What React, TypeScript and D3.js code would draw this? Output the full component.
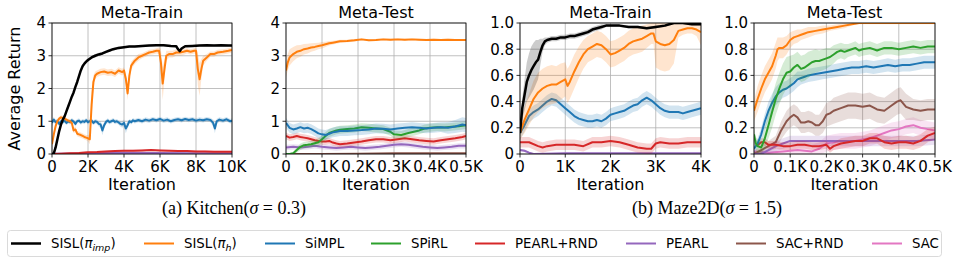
import React from 'react';
import * as d3 from 'd3';

// [iteration, mean, spread]
type Pt = [number, number, number];

// ---------- (a) Kitchen, Meta-Train ----------
const kTrainImp: Pt[] = [
  [0, 0, 0], [100, 0.02, 0.02], [200, 0.2, 0.05], [300, 0.45, 0.06], [400, 0.7, 0.06], [500, 0.9, 0.05],
  [600, 1.05, 0.05], [700, 1.15, 0.05], [800, 1.3, 0.05], [900, 1.45, 0.05], [1000, 1.6, 0.05],
  [1100, 1.75, 0.05], [1200, 1.88, 0.05], [1300, 2.05, 0.06], [1400, 2.2, 0.06], [1500, 2.38, 0.06],
  [1600, 2.55, 0.06], [1700, 2.68, 0.05], [1800, 2.76, 0.05], [1900, 2.82, 0.05], [2000, 2.87, 0.05],
  [2200, 2.95, 0.05], [2400, 3.0, 0.05], [2600, 3.04, 0.05], [2800, 3.07, 0.04], [3000, 3.12, 0.04],
  [3200, 3.16, 0.04], [3400, 3.2, 0.04], [3700, 3.24, 0.04], [4000, 3.26, 0.03], [4300, 3.28, 0.03],
  [4600, 3.28, 0.03], [5000, 3.3, 0.03], [5400, 3.31, 0.03], [5800, 3.32, 0.03], [6200, 3.32, 0.03],
  [6600, 3.3, 0.03], [6900, 3.29, 0.03], [7000, 3.2, 0.04], [7100, 3.14, 0.04], [7200, 3.22, 0.04],
  [7400, 3.29, 0.03], [7800, 3.3, 0.03], [8200, 3.31, 0.03], [8600, 3.32, 0.03], [9000, 3.31, 0.03],
  [9400, 3.32, 0.03], [9800, 3.31, 0.03], [10000, 3.31, 0.03],
];
const kTrainH: Pt[] = [
  [0, 0.3, 0.1], [100, 0.6, 0.1], [200, 0.85, 0.08], [300, 1.0, 0.08], [400, 1.08, 0.06], [500, 1.12, 0.06],
  [600, 1.1, 0.06], [700, 1.08, 0.06], [800, 1.05, 0.06], [900, 1.02, 0.06], [1000, 1.0, 0.07],
  [1100, 0.95, 0.07], [1200, 0.72, 0.08], [1300, 0.75, 0.08], [1400, 0.62, 0.08], [1500, 0.6, 0.08],
  [1600, 0.58, 0.08], [1700, 0.55, 0.08], [1800, 0.52, 0.08], [1900, 0.5, 0.08], [2000, 0.48, 0.1],
  [2100, 0.45, 0.15], [2200, 1.5, 0.4], [2300, 2.2, 0.2], [2400, 2.4, 0.12], [2500, 2.45, 0.1],
  [2700, 2.5, 0.1], [2900, 2.52, 0.1], [3100, 2.48, 0.1], [3300, 2.5, 0.1], [3500, 2.45, 0.1],
  [3700, 2.55, 0.1], [3900, 2.5, 0.1], [4000, 2.55, 0.1], [4100, 2.3, 0.15], [4200, 1.85, 0.2],
  [4300, 2.4, 0.15], [4400, 2.7, 0.12], [4600, 2.85, 0.1], [4800, 2.95, 0.1], [5000, 3.0, 0.08],
  [5200, 3.05, 0.08], [5400, 3.1, 0.08], [5600, 3.12, 0.08], [5800, 3.15, 0.08], [5950, 3.15, 0.1],
  [6050, 2.8, 0.4], [6150, 2.15, 0.5], [6250, 2.6, 0.3], [6350, 3.0, 0.15], [6500, 3.05, 0.1],
  [6700, 3.05, 0.1], [6900, 3.1, 0.1], [7100, 3.1, 0.1], [7300, 3.12, 0.1], [7500, 3.15, 0.08],
  [7700, 3.12, 0.08], [7900, 3.15, 0.08], [8000, 3.15, 0.1], [8100, 2.6, 0.5], [8200, 2.28, 0.5],
  [8300, 2.6, 0.3], [8400, 2.85, 0.15], [8600, 2.95, 0.1], [8800, 3.05, 0.08], [9000, 3.05, 0.08],
  [9200, 3.1, 0.08], [9500, 3.12, 0.08], [9800, 3.15, 0.08], [10000, 3.18, 0.08],
];
const kTrainSimpl: Pt[] = [
  [0, 0.95, 0.1], [100, 1.05, 0.08], [200, 0.97, 0.08], [300, 1.0, 0.08], [400, 0.92, 0.08], [500, 1.0, 0.07],
  [600, 0.98, 0.07], [700, 1.02, 0.07], [800, 0.95, 0.07], [900, 1.0, 0.07], [1000, 0.97, 0.07],
  [1100, 1.03, 0.07], [1200, 0.99, 0.07], [1300, 0.92, 0.08], [1400, 1.0, 0.07], [1500, 1.02, 0.07],
  [1600, 0.96, 0.07], [1700, 1.0, 0.07], [1800, 0.98, 0.07], [1900, 1.03, 0.07], [2000, 0.97, 0.07],
  [2100, 1.0, 0.07], [2200, 1.02, 0.07], [2300, 0.95, 0.07], [2400, 1.0, 0.07], [2500, 0.98, 0.07],
  [2600, 0.92, 0.08], [2700, 0.9, 0.1], [2800, 0.72, 0.15], [2900, 0.88, 0.1], [3000, 0.98, 0.07],
  [3100, 1.02, 0.07], [3200, 0.97, 0.07], [3300, 1.0, 0.07], [3400, 1.03, 0.07], [3500, 0.98, 0.07],
  [3600, 1.0, 0.07], [3700, 0.96, 0.07], [3800, 0.92, 0.08], [3900, 0.9, 0.1], [4000, 0.95, 0.1],
  [4100, 0.78, 0.15], [4200, 0.88, 0.1], [4300, 1.0, 0.07], [4400, 0.97, 0.07], [4500, 1.03, 0.07],
  [4600, 1.0, 0.07], [4800, 1.04, 0.07], [5000, 1.0, 0.07], [5200, 1.05, 0.07], [5400, 1.02, 0.07],
  [5600, 1.06, 0.07], [5800, 1.03, 0.07], [6000, 1.07, 0.07], [6200, 1.02, 0.07], [6400, 1.05, 0.07],
  [6600, 1.0, 0.07], [6800, 1.04, 0.07], [7000, 1.06, 0.07], [7200, 1.03, 0.07], [7400, 1.07, 0.07],
  [7600, 1.04, 0.07], [7800, 1.06, 0.07], [8000, 1.02, 0.07], [8200, 1.05, 0.07], [8400, 1.03, 0.07],
  [8600, 1.06, 0.07], [8800, 1.04, 0.07], [8950, 0.95, 0.1], [9050, 0.78, 0.15], [9150, 1.0, 0.08],
  [9300, 1.05, 0.07], [9500, 1.02, 0.07], [9700, 1.06, 0.07], [9900, 1.0, 0.07], [10000, 1.02, 0.07],
];
const kTrainPearlRnd: Pt[] = [
  [0, 0.0, 0.01], [500, 0.01, 0.02], [1000, 0.02, 0.02], [1500, 0.03, 0.03], [2000, 0.05, 0.03],
  [2500, 0.06, 0.03], [3000, 0.08, 0.03], [3500, 0.09, 0.03], [4000, 0.1, 0.03], [4500, 0.1, 0.03],
  [5000, 0.11, 0.03], [5500, 0.12, 0.03], [6000, 0.11, 0.03], [6500, 0.1, 0.03], [7000, 0.09, 0.03],
  [7500, 0.09, 0.03], [8000, 0.08, 0.03], [8500, 0.08, 0.03], [9000, 0.07, 0.03], [9500, 0.07, 0.03],
  [10000, 0.07, 0.03],
];
const kTrainPearl: Pt[] = [
  [0, 0.01, 0.01], [2000, 0.02, 0.02], [4000, 0.04, 0.02], [6000, 0.03, 0.02], [8000, 0.02, 0.02],
  [10000, 0.02, 0.02],
];

// ---------- (a) Kitchen, Meta-Test ----------
const kTestH: Pt[] = [
  [0, 2.55, 0.2], [5, 2.8, 0.25], [10, 2.95, 0.25], [20, 3.05, 0.22], [30, 3.12, 0.2], [40, 3.15, 0.18],
  [50, 3.2, 0.16], [60, 3.22, 0.15], [70, 3.25, 0.13], [80, 3.27, 0.12], [90, 3.3, 0.1], [100, 3.32, 0.1],
  [110, 3.35, 0.08], [120, 3.38, 0.07], [130, 3.4, 0.06], [140, 3.42, 0.05], [150, 3.44, 0.05],
  [170, 3.45, 0.04], [190, 3.47, 0.04], [210, 3.5, 0.03], [230, 3.47, 0.03], [250, 3.48, 0.03],
  [270, 3.5, 0.03], [290, 3.49, 0.03], [310, 3.5, 0.03], [330, 3.49, 0.03], [350, 3.5, 0.03],
  [370, 3.49, 0.03], [390, 3.48, 0.03], [410, 3.49, 0.03], [430, 3.48, 0.03], [450, 3.49, 0.03],
  [470, 3.48, 0.03], [490, 3.48, 0.03], [500, 3.48, 0.03],
];
const kTestSimpl: Pt[] = [
  [0, 0.95, 0.15], [10, 0.8, 0.15], [20, 0.75, 0.15], [30, 0.78, 0.15], [40, 0.82, 0.15], [50, 0.78, 0.15],
  [60, 0.8, 0.15], [70, 0.76, 0.15], [80, 0.7, 0.15], [90, 0.63, 0.15], [100, 0.6, 0.15], [110, 0.58, 0.15],
  [120, 0.62, 0.15], [130, 0.66, 0.15], [140, 0.68, 0.15], [150, 0.7, 0.15], [170, 0.7, 0.15],
  [190, 0.72, 0.15], [210, 0.73, 0.15], [230, 0.75, 0.15], [250, 0.78, 0.15], [270, 0.77, 0.15],
  [290, 0.75, 0.15], [310, 0.78, 0.15], [330, 0.8, 0.15], [350, 0.82, 0.15], [370, 0.8, 0.15],
  [390, 0.78, 0.15], [410, 0.8, 0.15], [430, 0.82, 0.15], [450, 0.8, 0.18], [470, 0.84, 0.2],
  [490, 0.9, 0.22], [500, 0.88, 0.22],
];
const kTestSpirl: Pt[] = [
  [0, 0, 0.02], [10, 0, 0.02], [20, 0.02, 0.04], [30, 0.12, 0.08], [40, 0.22, 0.1], [50, 0.27, 0.1],
  [60, 0.28, 0.1], [70, 0.3, 0.1], [80, 0.33, 0.1], [90, 0.36, 0.12], [100, 0.45, 0.12], [110, 0.55, 0.12],
  [120, 0.64, 0.12], [130, 0.68, 0.12], [140, 0.72, 0.12], [150, 0.74, 0.12], [170, 0.76, 0.12],
  [190, 0.78, 0.12], [210, 0.82, 0.12], [230, 0.8, 0.12], [250, 0.78, 0.12], [270, 0.76, 0.12],
  [290, 0.68, 0.12], [300, 0.6, 0.12], [320, 0.58, 0.12], [340, 0.64, 0.12], [355, 0.68, 0.12],
  [370, 0.72, 0.12], [385, 0.78, 0.12], [400, 0.8, 0.12], [420, 0.82, 0.12], [440, 0.81, 0.12],
  [460, 0.83, 0.12], [480, 0.85, 0.12], [500, 0.88, 0.12],
];
const kTestPearlRnd: Pt[] = [
  [0, 0.55, 0.1], [10, 0.5, 0.1], [20, 0.52, 0.1], [30, 0.55, 0.1], [40, 0.52, 0.1], [50, 0.5, 0.1],
  [60, 0.48, 0.1], [70, 0.45, 0.1], [80, 0.42, 0.1], [90, 0.4, 0.1], [100, 0.38, 0.1], [110, 0.38, 0.1],
  [120, 0.4, 0.1], [130, 0.35, 0.1], [140, 0.32, 0.1], [150, 0.3, 0.1], [170, 0.32, 0.1], [190, 0.35, 0.1],
  [210, 0.38, 0.1], [230, 0.42, 0.1], [250, 0.45, 0.1], [270, 0.45, 0.1], [290, 0.42, 0.1],
  [310, 0.45, 0.1], [330, 0.48, 0.1], [350, 0.45, 0.1], [370, 0.42, 0.1], [390, 0.4, 0.1],
  [410, 0.38, 0.1], [430, 0.42, 0.1], [450, 0.45, 0.1], [470, 0.48, 0.1], [490, 0.52, 0.1],
  [500, 0.55, 0.1],
];
const kTestPearl: Pt[] = [
  [0, 0.2, 0.08], [20, 0.22, 0.08], [40, 0.2, 0.08], [60, 0.22, 0.08], [80, 0.25, 0.08], [100, 0.22, 0.08],
  [120, 0.2, 0.08], [140, 0.18, 0.08], [160, 0.2, 0.08], [180, 0.22, 0.08], [200, 0.2, 0.08],
  [220, 0.18, 0.08], [240, 0.2, 0.08], [260, 0.22, 0.08], [280, 0.25, 0.08], [300, 0.28, 0.08],
  [320, 0.3, 0.08], [340, 0.28, 0.08], [360, 0.25, 0.08], [380, 0.22, 0.08], [400, 0.2, 0.08],
  [420, 0.18, 0.08], [440, 0.2, 0.08], [460, 0.22, 0.08], [480, 0.25, 0.08], [500, 0.25, 0.08],
];
const kTestSacRnd: Pt[] = [
  [0, 0.0, 0.01], [100, 0.0, 0.01], [200, 0.01, 0.01], [300, 0.02, 0.01], [400, 0.02, 0.01], [500, 0.02, 0.01],
];

// ---------- (b) Maze2D, Meta-Train ----------
const mTrainImp: Pt[] = [
  [0, 0.16, 0.03], [50, 0.35, 0.08], [100, 0.45, 0.12], [150, 0.55, 0.15], [200, 0.6, 0.17], [250, 0.64, 0.18],
  [300, 0.67, 0.18], [350, 0.7, 0.17], [400, 0.72, 0.15], [450, 0.78, 0.1], [500, 0.83, 0.05],
  [550, 0.86, 0.03], [600, 0.87, 0.02], [700, 0.88, 0.02], [800, 0.88, 0.02], [900, 0.89, 0.02],
  [1000, 0.89, 0.02], [1100, 0.9, 0.02], [1200, 0.9, 0.02], [1300, 0.91, 0.02], [1400, 0.92, 0.02],
  [1500, 0.93, 0.02], [1600, 0.95, 0.02], [1700, 0.96, 0.02], [1800, 0.97, 0.02], [1900, 0.98, 0.01],
  [2000, 0.98, 0.01], [2200, 0.98, 0.01], [2400, 0.97, 0.01], [2600, 0.97, 0.01], [2800, 0.96, 0.01],
  [3000, 0.97, 0.01], [3200, 0.98, 0.01], [3300, 0.99, 0.01], [3400, 1.0, 0.01], [3600, 1.0, 0.01],
  [3800, 0.99, 0.01], [4000, 0.99, 0.01],
];
const mTrainH: Pt[] = [
  [0, 0.16, 0.05], [100, 0.26, 0.1], [200, 0.34, 0.12], [300, 0.42, 0.14], [400, 0.47, 0.15],
  [500, 0.5, 0.15], [600, 0.52, 0.15], [700, 0.53, 0.15], [800, 0.53, 0.14], [900, 0.55, 0.14],
  [1000, 0.57, 0.13], [1050, 0.52, 0.13], [1100, 0.55, 0.13], [1200, 0.63, 0.13], [1300, 0.7, 0.12],
  [1400, 0.76, 0.11], [1500, 0.8, 0.1], [1600, 0.82, 0.1], [1700, 0.84, 0.1], [1800, 0.83, 0.1],
  [1900, 0.8, 0.1], [2000, 0.76, 0.1], [2100, 0.77, 0.1], [2200, 0.79, 0.1], [2300, 0.81, 0.1],
  [2400, 0.84, 0.1], [2500, 0.86, 0.1], [2600, 0.87, 0.1], [2700, 0.88, 0.1], [2800, 0.9, 0.09],
  [2900, 0.92, 0.08], [2950, 0.92, 0.08], [3000, 0.86, 0.2], [3100, 0.84, 0.2], [3200, 0.83, 0.2],
  [3300, 0.84, 0.2], [3400, 0.87, 0.18], [3500, 0.94, 0.05], [3600, 0.95, 0.04], [3700, 0.96, 0.04],
  [3800, 0.96, 0.04], [3900, 0.95, 0.05], [4000, 0.93, 0.1],
];
const mTrainSimpl: Pt[] = [
  [0, 0.16, 0.05], [100, 0.22, 0.05], [200, 0.29, 0.05], [300, 0.32, 0.05], [400, 0.34, 0.05],
  [500, 0.37, 0.05], [600, 0.4, 0.05], [700, 0.42, 0.05], [800, 0.41, 0.05], [900, 0.38, 0.05],
  [1000, 0.35, 0.05], [1100, 0.32, 0.05], [1200, 0.29, 0.05], [1300, 0.27, 0.05], [1400, 0.26, 0.05],
  [1500, 0.25, 0.05], [1600, 0.25, 0.05], [1700, 0.26, 0.05], [1800, 0.25, 0.05], [1900, 0.27, 0.05],
  [2000, 0.3, 0.05], [2100, 0.31, 0.05], [2200, 0.32, 0.05], [2300, 0.33, 0.05], [2400, 0.35, 0.05],
  [2500, 0.37, 0.05], [2600, 0.38, 0.05], [2700, 0.41, 0.05], [2800, 0.43, 0.05], [2900, 0.41, 0.05],
  [3000, 0.38, 0.05], [3100, 0.35, 0.05], [3200, 0.33, 0.05], [3300, 0.32, 0.05], [3400, 0.32, 0.05],
  [3500, 0.32, 0.05], [3600, 0.31, 0.05], [3700, 0.32, 0.05], [3800, 0.33, 0.05], [3900, 0.34, 0.05],
  [4000, 0.35, 0.05],
];
const mTrainPearlRnd: Pt[] = [
  [0, 0.09, 0.04], [200, 0.09, 0.04], [400, 0.06, 0.04], [500, 0.05, 0.04], [600, 0.06, 0.04],
  [800, 0.07, 0.04], [1000, 0.07, 0.04], [1200, 0.07, 0.04], [1400, 0.06, 0.04], [1600, 0.09, 0.04],
  [1800, 0.09, 0.04], [2000, 0.1, 0.04], [2200, 0.09, 0.04], [2400, 0.07, 0.04], [2600, 0.05, 0.04],
  [2800, 0.04, 0.04], [2900, 0.04, 0.04], [3000, 0.08, 0.04], [3100, 0.09, 0.04], [3300, 0.08, 0.04],
  [3500, 0.08, 0.04], [3700, 0.09, 0.04], [3900, 0.09, 0.04], [4000, 0.09, 0.04],
];
const mTrainPearl: Pt[] = [
  [0, 0.03, 0.01], [100, 0.025, 0.01], [200, 0.01, 0.005], [300, 0.0, 0.005], [1000, 0.005, 0.005],
  [2000, 0.005, 0.005], [3000, 0.005, 0.005], [4000, 0.005, 0.005],
];

// ---------- (b) Maze2D, Meta-Test ----------
const mTestH: Pt[] = [
  [0, 0.33, 0.08], [10, 0.42, 0.1], [20, 0.5, 0.1], [30, 0.57, 0.1], [40, 0.62, 0.1], [50, 0.67, 0.1],
  [60, 0.75, 0.1], [65, 0.8, 0.09], [70, 0.81, 0.08], [80, 0.81, 0.08], [90, 0.83, 0.07], [100, 0.87, 0.06],
  [110, 0.89, 0.05], [120, 0.9, 0.05], [130, 0.91, 0.04], [140, 0.92, 0.04], [150, 0.93, 0.04],
  [170, 0.94, 0.03], [190, 0.95, 0.03], [210, 0.96, 0.02], [230, 0.97, 0.02], [250, 0.98, 0.02],
  [270, 0.99, 0.01], [290, 1.0, 0.01], [320, 1.0, 0.01], [360, 1.0, 0.01], [400, 1.0, 0.01],
  [450, 1.0, 0.01], [500, 1.0, 0.01],
];
const mTestSpirl: Pt[] = [
  [0, 0.15, 0.05], [5, 0.08, 0.05], [10, 0.06, 0.05], [20, 0.05, 0.05], [30, 0.12, 0.08], [40, 0.22, 0.1],
  [50, 0.32, 0.12], [60, 0.42, 0.12], [70, 0.5, 0.12], [80, 0.57, 0.12], [90, 0.62, 0.12], [100, 0.63, 0.12],
  [110, 0.66, 0.1], [120, 0.68, 0.1], [130, 0.65, 0.1], [140, 0.66, 0.1], [150, 0.68, 0.1], [160, 0.7, 0.09],
  [170, 0.71, 0.09], [180, 0.71, 0.08], [190, 0.72, 0.08], [200, 0.73, 0.08], [210, 0.74, 0.07],
  [220, 0.76, 0.07], [230, 0.78, 0.06], [240, 0.79, 0.06], [250, 0.78, 0.06], [260, 0.79, 0.05],
  [270, 0.8, 0.05], [280, 0.81, 0.05], [290, 0.79, 0.05], [300, 0.8, 0.05], [320, 0.81, 0.05],
  [340, 0.79, 0.05], [360, 0.81, 0.05], [380, 0.81, 0.05], [400, 0.8, 0.05], [420, 0.81, 0.05],
  [440, 0.82, 0.05], [460, 0.81, 0.05], [480, 0.82, 0.05], [500, 0.82, 0.05],
];
const mTestSimpl: Pt[] = [
  [0, 0.04, 0.03], [10, 0.08, 0.04], [20, 0.15, 0.05], [30, 0.25, 0.06], [40, 0.33, 0.07], [50, 0.39, 0.07],
  [60, 0.44, 0.07], [70, 0.47, 0.07], [80, 0.49, 0.06], [90, 0.5, 0.06], [100, 0.52, 0.06], [110, 0.54, 0.06],
  [120, 0.57, 0.06], [130, 0.58, 0.05], [140, 0.59, 0.05], [150, 0.6, 0.05], [170, 0.61, 0.05],
  [190, 0.62, 0.05], [210, 0.63, 0.05], [230, 0.64, 0.05], [250, 0.65, 0.05], [270, 0.66, 0.05],
  [290, 0.66, 0.05], [310, 0.67, 0.05], [330, 0.66, 0.05], [350, 0.67, 0.05], [370, 0.68, 0.05],
  [390, 0.67, 0.05], [410, 0.68, 0.05], [430, 0.68, 0.05], [450, 0.69, 0.05], [470, 0.7, 0.05],
  [490, 0.7, 0.05], [500, 0.7, 0.05],
];
const mTestSacRnd: Pt[] = [
  [0, 0.0, 0.02], [20, 0.03, 0.03], [40, 0.06, 0.04], [60, 0.09, 0.05], [75, 0.18, 0.07], [90, 0.25, 0.08],
  [100, 0.28, 0.08], [110, 0.3, 0.08], [120, 0.28, 0.08], [130, 0.24, 0.08], [140, 0.24, 0.08],
  [150, 0.25, 0.08], [160, 0.24, 0.08], [170, 0.22, 0.08], [180, 0.22, 0.08], [190, 0.25, 0.09],
  [200, 0.3, 0.09], [210, 0.31, 0.09], [220, 0.33, 0.1], [240, 0.35, 0.1], [260, 0.37, 0.1],
  [280, 0.37, 0.1], [300, 0.36, 0.1], [320, 0.37, 0.1], [340, 0.34, 0.1], [360, 0.33, 0.1],
  [380, 0.37, 0.1], [395, 0.4, 0.1], [405, 0.41, 0.1], [420, 0.36, 0.1], [440, 0.34, 0.08],
  [460, 0.33, 0.08], [480, 0.34, 0.08], [500, 0.34, 0.08],
];
const mTestSac: Pt[] = [
  [0, 0.02, 0.02], [40, 0.01, 0.02], [80, 0.02, 0.03], [120, 0.03, 0.04], [160, 0.02, 0.05],
  [180, 0.04, 0.05], [200, 0.08, 0.06], [220, 0.09, 0.06], [240, 0.1, 0.06], [260, 0.1, 0.06],
  [280, 0.1, 0.06], [300, 0.11, 0.06], [320, 0.12, 0.06], [340, 0.14, 0.06], [360, 0.16, 0.06],
  [380, 0.18, 0.06], [400, 0.19, 0.06], [420, 0.21, 0.06], [440, 0.22, 0.06], [460, 0.2, 0.06],
  [480, 0.19, 0.06], [500, 0.18, 0.06],
];
const mTestPearlRnd: Pt[] = [
  [10, 0.07, 0.03], [20, 0.09, 0.03], [30, 0.09, 0.03], [40, 0.07, 0.03], [60, 0.07, 0.03], [80, 0.06, 0.03],
  [100, 0.06, 0.03], [120, 0.07, 0.03], [140, 0.07, 0.03], [160, 0.06, 0.03], [180, 0.06, 0.03],
  [200, 0.07, 0.03], [210, 0.04, 0.03], [220, 0.06, 0.03], [240, 0.08, 0.04], [260, 0.09, 0.04],
  [280, 0.1, 0.04], [300, 0.1, 0.04], [320, 0.12, 0.04], [340, 0.12, 0.04], [360, 0.09, 0.05],
  [380, 0.08, 0.05], [400, 0.09, 0.05], [420, 0.09, 0.05], [440, 0.08, 0.05], [460, 0.1, 0.05],
  [480, 0.14, 0.05], [500, 0.16, 0.05],
];
const mTestPearl: Pt[] = [
  [0, 0.0, 0.01], [20, 0.0, 0.02], [40, 0.03, 0.03], [60, 0.06, 0.04], [80, 0.08, 0.04], [100, 0.1, 0.04],
  [150, 0.1, 0.04], [200, 0.1, 0.04], [250, 0.1, 0.04], [300, 0.1, 0.04], [350, 0.1, 0.04],
  [400, 0.1, 0.04], [450, 0.1, 0.04], [500, 0.11, 0.04],
];

// ---------- styling ----------
const COLOR: Record<string, string> = {
  imp: '#000000', h: '#ff7f0e', simpl: '#1f77b4', spirl: '#2ca02c',
  pearlRnd: '#d62728', pearl: '#9467bd', sacRnd: '#8c564b', sac: '#e377c2',
};
const legendKeys = ['imp', 'h', 'simpl', 'spirl', 'pearlRnd', 'pearl', 'sacRnd', 'sac'];
const legendLabels = ['SISL', 'SISL', 'SiMPL', 'SPiRL', 'PEARL+RND', 'PEARL', 'SAC+RND', 'SAC'];
const legendX = [11, 144, 265, 371, 475, 626, 736, 872];

const FONT = 'DejaVu Sans, sans-serif';
const TOP = 23;
const BOTTOM = 154;

interface PanelDef {
  id: string;
  title: string;
  left: number;
  right: number;
  xMax: number;
  xTicks: number[];
  yMax: number;
  yTicks: number[];
  yFmt: (v: number) => string;
  yLabel?: boolean;
  series: { key: string; data: Pt[] }[];
}

const kFmt = (v: number) => (v === 0 ? '0' : `${v / 1000}K`);
const intFmt = (v: number) => `${v}`;
const decFmt = (v: number) => (v === 0 ? '0' : v.toFixed(1));

const panels: PanelDef[] = [
  {
    id: 'kt', title: 'Meta-Train', left: 52, right: 232, xMax: 10000,
    xTicks: [0, 2000, 4000, 6000, 8000, 10000], yMax: 4, yTicks: [0, 1, 2, 3, 4], yFmt: intFmt, yLabel: true,
    series: [
      { key: 'pearl', data: kTrainPearl }, { key: 'pearlRnd', data: kTrainPearlRnd },
      { key: 'simpl', data: kTrainSimpl }, { key: 'h', data: kTrainH }, { key: 'imp', data: kTrainImp },
    ],
  },
  {
    id: 'ke', title: 'Meta-Test', left: 286, right: 466, xMax: 500,
    xTicks: [0, 100, 200, 300, 400, 500], yMax: 4, yTicks: [0, 1, 2, 3, 4], yFmt: intFmt,
    series: [
      { key: 'sacRnd', data: kTestSacRnd }, { key: 'pearl', data: kTestPearl },
      { key: 'pearlRnd', data: kTestPearlRnd }, { key: 'spirl', data: kTestSpirl },
      { key: 'simpl', data: kTestSimpl }, { key: 'h', data: kTestH },
    ],
  },
  {
    id: 'mt', title: 'Meta-Train', left: 520, right: 701, xMax: 4000,
    xTicks: [0, 1000, 2000, 3000, 4000], yMax: 1, yTicks: [0, 0.2, 0.4, 0.6, 0.8, 1.0], yFmt: decFmt,
    series: [
      { key: 'pearl', data: mTrainPearl }, { key: 'pearlRnd', data: mTrainPearlRnd },
      { key: 'simpl', data: mTrainSimpl }, { key: 'h', data: mTrainH }, { key: 'imp', data: mTrainImp },
    ],
  },
  {
    id: 'me', title: 'Meta-Test', left: 754, right: 935, xMax: 500,
    xTicks: [0, 100, 200, 300, 400, 500], yMax: 1, yTicks: [0, 0.2, 0.4, 0.6, 0.8, 1.0], yFmt: decFmt,
    series: [
      { key: 'sac', data: mTestSac }, { key: 'sacRnd', data: mTestSacRnd }, { key: 'pearl', data: mTestPearl },
      { key: 'pearlRnd', data: mTestPearlRnd }, { key: 'simpl', data: mTestSimpl },
      { key: 'spirl', data: mTestSpirl }, { key: 'h', data: mTestH },
    ],
  },
];

function Panel({ p }: { p: PanelDef }) {
  const x = d3.scaleLinear().domain([0, p.xMax]).range([p.left, p.right]);
  const y = d3.scaleLinear().domain([0, p.yMax]).range([BOTTOM, TOP]);
  const line = d3.line<Pt>().x(d => x(d[0])).y(d => y(d[1]));
  const band = d3.area<Pt>().x(d => x(d[0])).y0(d => y(d[1] - d[2])).y1(d => y(d[1] + d[2]));
  const clip = `clip-${p.id}`;
  const cx = (p.left + p.right) / 2;

  return (
    <g>
      <defs>
        <clipPath id={clip}>
          <rect x={p.left} y={TOP} width={p.right - p.left} height={BOTTOM - TOP} />
        </clipPath>
      </defs>
      {/* grid */}
      {p.xTicks.map(t => (
        <line key={'gx' + t} x1={x(t)} x2={x(t)} y1={TOP} y2={BOTTOM} stroke="#b0b0b0" strokeWidth={0.8} />
      ))}
      {p.yTicks.map(t => (
        <line key={'gy' + t} x1={p.left} x2={p.right} y1={y(t)} y2={y(t)} stroke="#b0b0b0" strokeWidth={0.8} />
      ))}
      <g clipPath={`url(#${clip})`}>
        {p.series.map(s => (
          <g key={s.key}>
            <path d={band(s.data) || ''} fill={COLOR[s.key]} fillOpacity={0.2} stroke="none" />
            <path d={line(s.data) || ''} fill="none" stroke={COLOR[s.key]} strokeWidth={s.key === 'imp' ? 2.5 : 2} strokeLinejoin="round" />
          </g>
        ))}
      </g>
      {/* spines */}
      <rect x={p.left} y={TOP} width={p.right - p.left} height={BOTTOM - TOP} fill="none" stroke="#000" strokeWidth={0.8} />
      {/* ticks */}
      {p.xTicks.map(t => (
        <g key={'tx' + t}>
          <line x1={x(t)} x2={x(t)} y1={BOTTOM} y2={BOTTOM + 3.5} stroke="#000" strokeWidth={0.8} />
          <text x={x(t)} y={172} textAnchor="middle" fontSize={15} fontFamily={FONT}>{kFmt(t)}</text>
        </g>
      ))}
      {p.yTicks.map(t => (
        <g key={'ty' + t}>
          <line x1={p.left - 3.5} x2={p.left} y1={y(t)} y2={y(t)} stroke="#000" strokeWidth={0.8} />
          <text x={p.left - 6} y={y(t)} dy="0.36em" textAnchor="end" fontSize={15} fontFamily={FONT}>{p.yFmt(t)}</text>
        </g>
      ))}
      <text x={cx} y={17.5} textAnchor="middle" fontSize={16} fontFamily={FONT}>{p.title}</text>
      <text x={cx} y={189.5} textAnchor="middle" fontSize={16} fontFamily={FONT}>Iteration</text>
      {p.yLabel && (
        <text transform={`translate(19.5,${(TOP + BOTTOM) / 2}) rotate(-90)`} textAnchor="middle" fontSize={16} fontFamily={FONT}>
          Average Return
        </text>
      )}
    </g>
  );
}

function LegendLabel({ i }: { i: number }) {
  const tx = legendX[i] + 40;
  if (i === 0 || i === 1) {
    return (
      <text x={tx} y={248} fontSize={13.3} fontFamily={FONT}>
        {legendLabels[i]}(<tspan fontStyle="italic">π</tspan>
        <tspan fontStyle="italic" fontSize={9.5} dy={3}>{i === 0 ? 'imp' : 'h'}</tspan>
        <tspan dy={-3}>)</tspan>
      </text>
    );
  }
  return (
    <text x={tx} y={248} fontSize={13.3} fontFamily={FONT}>{legendLabels[i]}</text>
  );
}

export default function App() {
  return (
    <svg width={957} height={263} style={{ position: 'absolute', left: 0, top: 0, background: '#fff' }}>
      <rect x={0} y={0} width={957} height={263} fill="#fff" />
      {panels.map(p => <Panel key={p.id} p={p} />)}
      <text x={234} y={214} textAnchor="middle" fontSize={18} fontFamily="Liberation Serif, serif">
        (a) Kitchen(<tspan fontStyle="italic">σ</tspan> = 0.3)
      </text>
      <text x={707} y={214} textAnchor="middle" fontSize={18} fontFamily="Liberation Serif, serif">
        (b) Maze2D(<tspan fontStyle="italic">σ</tspan> = 1.5)
      </text>
      <rect x={7.5} y={230.5} width={934} height={26} rx={3} fill="#fff" stroke="#d0d0d0" strokeWidth={0.8} />
      {legendKeys.map((k, i) => (
        <g key={k}>
          <line x1={legendX[i]} x2={legendX[i] + 30} y1={243.5} y2={243.5} stroke={COLOR[k]} strokeWidth={k === 'imp' ? 2.5 : 2} />
          <LegendLabel i={i} />
        </g>
      ))}
    </svg>
  );
}
